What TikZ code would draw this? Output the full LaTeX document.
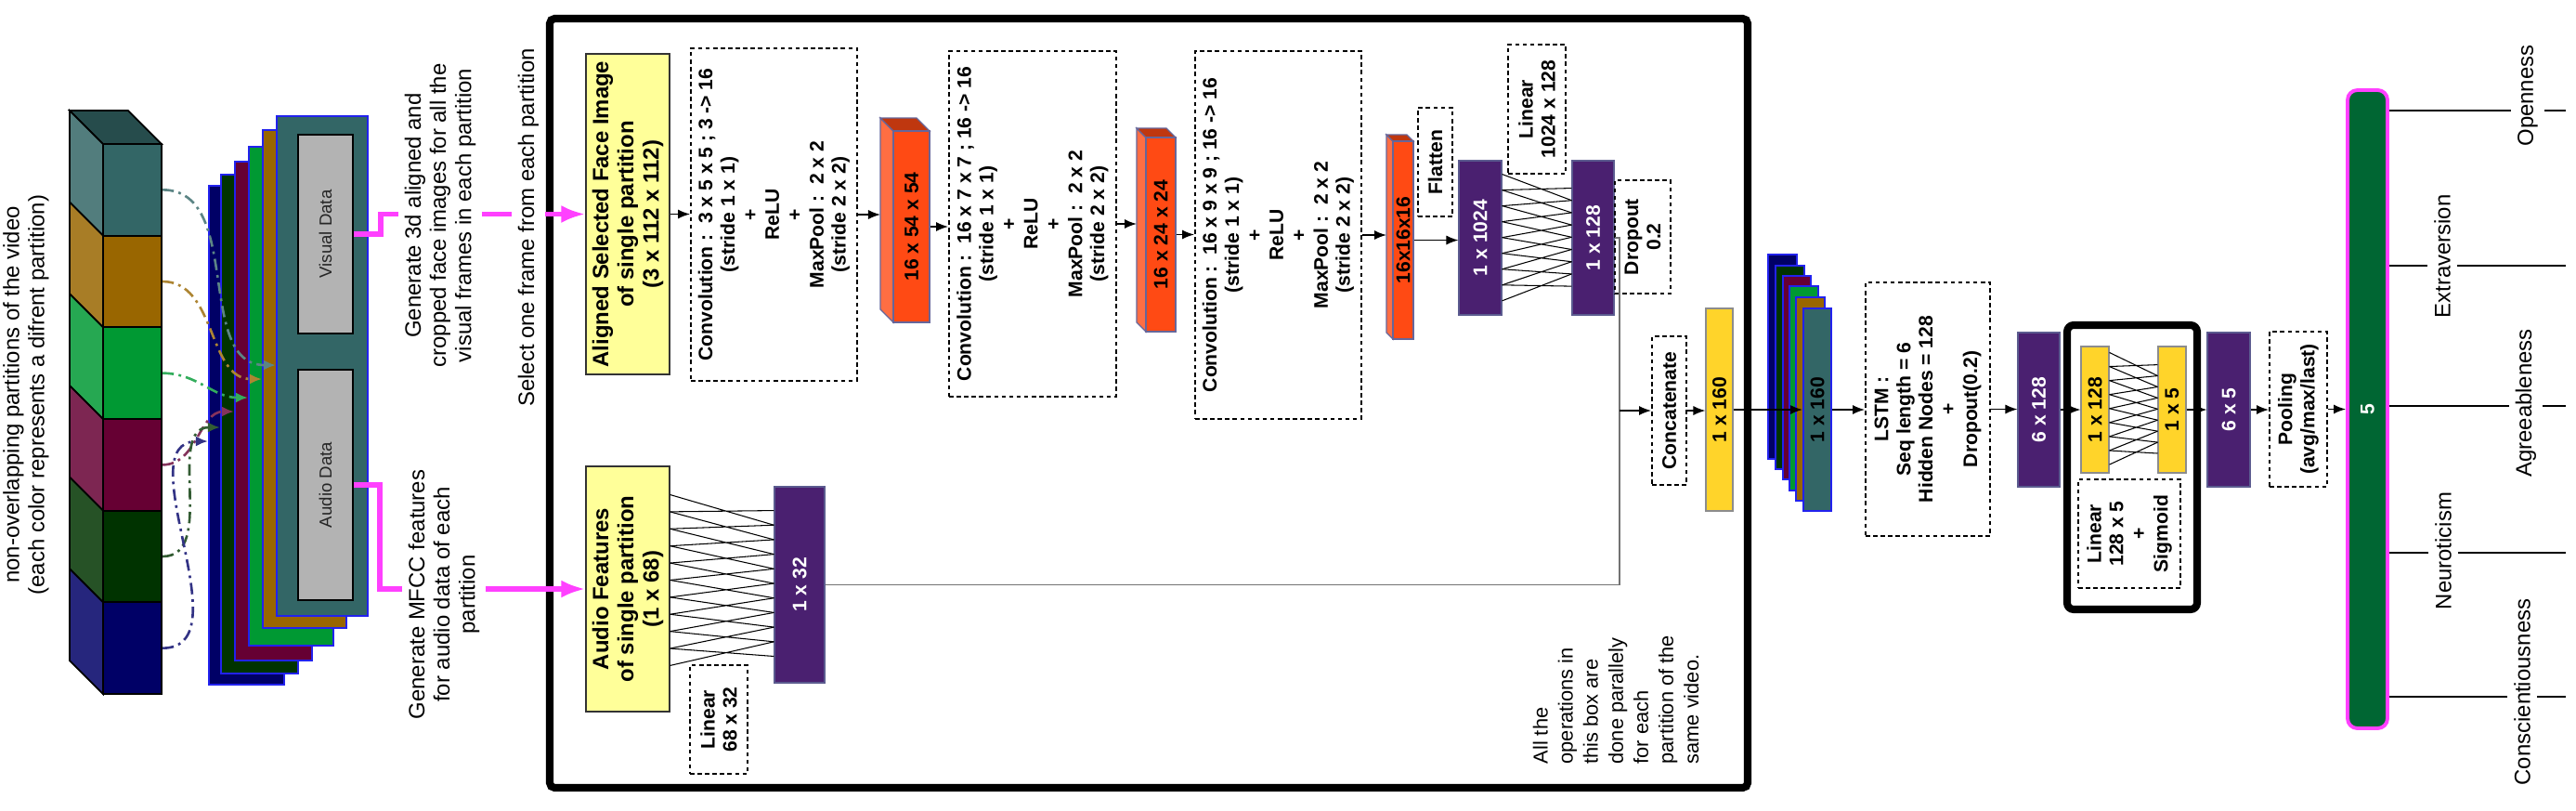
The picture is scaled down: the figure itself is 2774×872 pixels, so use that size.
\documentclass[tikz,border=0pt]{standalone}
\usepackage{fontspec}
\setmainfont{Liberation Sans}
\usepackage{tikz}
\usetikzlibrary{arrows.meta,positioning,fit,calc}
\usepackage{xcolor}
\definecolor{PTeal}{HTML}{336666}
\definecolor{PBrown}{HTML}{996600}
\definecolor{PGreen}{HTML}{009933}
\definecolor{PMaroon}{HTML}{660033}
\definecolor{PDkGreen}{HTML}{003300}
\definecolor{PNavy}{HTML}{000066}
\definecolor{FrameBlue}{HTML}{2222EE}
\definecolor{NetPurple}{HTML}{4A2070}
\definecolor{PBord}{HTML}{5B5B8F}
\definecolor{NetGold}{HTML}{FFD42A}
\definecolor{NetYellow}{HTML}{FFFF99}
\definecolor{NetRed}{HTML}{FF4A14}
\definecolor{BlkBord}{HTML}{66669A}
\definecolor{BarGreen}{HTML}{006633}
\definecolor{Mag}{HTML}{FF40FF}
\definecolor{DataGray}{HTML}{B3B3B3}

\begin{document}
\begin{tikzpicture}[x=0.01cm,y=-0.01cm,
  bx/.style={inner sep=0pt,line width=0.3pt},
  fr/.style={bx,draw=FrameBlue,line width=0.6pt},
  db/.style={bx,draw,line width=0.55pt,dash pattern=on 1.3pt off 1pt},
  pb/.style={bx,draw=PBord,fill=NetPurple},
  gb/.style={bx,draw=black!45,fill=NetGold},
  yb/.style={bx,draw=black!80,fill=NetYellow},
  vt/.style={rotate=90,align=center,inner sep=0pt},
  lbl/.style={vt,font=\fontsize{6}{6.8}\selectfont\bfseries},
  wlbl/.style={lbl,text=white},
  big/.style={vt,font=\fontsize{6.8}{7.7}\selectfont\bfseries},
  note/.style={vt,font=\fontsize{6.8}{7.7}\selectfont,fill=white,inner sep=2pt},
  trait/.style={note},
  a/.style={-{Latex[length=1.3mm,width=1mm]},line width=0.4pt},
  m/.style={-{Latex[length=2.6mm,width=1.9mm]},line width=1.7pt,draw=Mag},
  dd/.style={-{Latex[length=1.3mm,width=1.1mm]},line width=0.75pt,dash pattern=on 3.5pt off 1.5pt on 0.8pt off 1.5pt},
  fcl/.style={line width=0.3pt},
  gl/.style={line width=0.45pt,draw=black!55}]
\useasboundingbox (0,0) rectangle (2774,872);

% partitions of the video
\filldraw[fill=PTeal!75!black,line width=0.5pt] (75,119) -- (138,119) -- (174,155) -- (111,155) -- cycle;
\foreach \c [count=\i from 0] in {PTeal,PBrown,PGreen,PMaroon,PDkGreen,PNavy}{
  \pgfmathsetmacro\ya{155+98.67*\i}
  \pgfmathsetmacro\yb{\ya+98.67}
  \filldraw[fill=\c!85!white,line width=0.5pt] (75,\ya-36) -- (111,\ya) -- (111,\yb) -- (75,\yb-36) -- cycle;
  \node[bx,draw,line width=0.5pt,fill=\c,fit={(111,\ya)(174,\yb)}] (part\i) {};
}
\node[note,fill=none] (vidt) at (28,425) {non-overlapping partitions of the video\\(each color represents a difrent partition)};

% frames of each partition
\foreach \n/\c/\xa/\ya/\xb/\yb in {fr1/PNavy/225/200/306/737, fr2/PDkGreen/238/188/321/725, fr3/PMaroon/253/174/336/711, fr4/PGreen/268/158/359/695, fr5/PBrown/283/140/373/676, fr6/PTeal/298/125/396/663}
  \node[fr,fill=\c,fit={(\xa,\ya)(\xb,\yb)}] (\n) {};
\node[bx,draw,line width=0.5pt,fill=DataGray,fit={(321,145)(380,359)}] (vis) {};
\node[vt,font=\fontsize{5.3}{6}\selectfont,text=black!85] (vist) at (vis) {Visual Data};
\node[bx,draw,line width=0.5pt,fill=DataGray,fit={(321,398)(380,646)}] (aud) {};
\node[vt,font=\fontsize{5.3}{6}\selectfont,text=black!85] (audt) at (aud) {Audio Data};
\foreach \i/\f/\y/\c in {0/fr6/393/PTeal, 1/fr5/408/PBrown, 2/fr4/428/PGreen, 3/fr3/443/PMaroon, 4/fr2/460/PDkGreen, 5/fr1/475/PNavy}
  \draw[dd,draw=\c!80!white] (part\i.east) to[out=0,in=180] (\f.west |- 0,\y);

% one partition
\node[bx,draw,line width=2.3pt,rounded corners=1.5pt,fit={(592,20)(1882,848)}] (onepart) {};
\node[yb,fit={(631,58)(721,403)}] (face) {};
\node[big] (facet) at (face) {Aligned Selected Face Image\\of single partition\\(3 x 112 x 112)};
\node[yb,fit={(631,502)(721,766)}] (afeat) {};
\node[big] (afeatt) at (afeat) {Audio Features\\of single partition\\(1 x 68)};

\draw[m] (vis.east) -- ++(29,0) |- (face.west);
\draw[m] (aud.east) -- ++(28,0) |- (afeat.west);
\node[note] (gen3d) at (474,232) {Generate 3d aligned and\\cropped face images for all the\\visual frames in each partition};
\node[note] (mfcc) at (478,640) {Generate MFCC features\\for audio data of each\\partition};
\node[note] (sel) at (569,245) {Select one frame from each partition};

\node[pb,fit={(834,524)(888,735)}] (fc32) {};
\node[wlbl] (fc32t) at (fc32) {1 x 32};
\node[db,fit={(743,716)(805,833)}] (lin32) {};
\node[lbl] (lin32t) at (lin32) {Linear\\68 x 32};

\foreach \n/\xa/\ya/\xb/\yb/\tx in {conv1/744/52/923/410/3 x 5 x 5 ; 3 -> 16, conv2/1022/55/1202/427/16 x 7 x 7 ; 16 -> 16, conv3/1287/55/1466/451/16 x 9 x 9 ; 16 -> 16}{
  \node[db,fit={(\xa,\ya)(\xb,\yb)}] (\n) {};
  \node[lbl] (\n t) at (\n) {Convolution :\ \ \tx\\(stride 1 x 1)\\+\\ReLU\\+\\MaxPool :\ \ 2 x 2\\(stride 2 x 2)};
}
\foreach \n/\xa/\ya/\xb/\yb/\d/\tx in {blk1/962/141/1001/347/14/16 x 54 x 54, blk2/1234/148/1266/357/10/16 x 24 x 24, blk3/1500/152/1522/365/7/16x16x16}{
  \filldraw[fill=NetRed!80!white,draw=BlkBord,line width=0.4pt] (\xa,\ya) -- (\xa-\d,\ya-\d) -- (\xa-\d,\yb-\d) -- (\xa,\yb) -- cycle;
  \filldraw[fill=NetRed!75!black,draw=BlkBord,line width=0.4pt] (\xa,\ya) -- (\xa-\d,\ya-\d) -- (\xb-\d,\ya-\d) -- (\xb,\ya) -- cycle;
  \node[bx,fill=NetRed,draw=BlkBord,line width=0.4pt,fit={(\xa,\ya)(\xb,\yb)}] (\n) {};
  \node[lbl] (\n t) at (\n) {\tx};
  \coordinate (\n s) at (\xa-\d,{(\ya+\yb)/2});
}
\node[db,fit={(1527,116)(1564,233)}] (flat) {};
\node[lbl] (flatt) at (flat) {Flatten};
\node[pb,fit={(1571,173)(1617,339)}] (fc1024) {};
\node[wlbl] (fc1024t) at (fc1024) {1 x 1024};
\node[pb,fit={(1693,173)(1738,339)}] (fc128) {};
\node[wlbl] (fc128t) at (fc128) {1 x 128};
\node[db,fit={(1624,48)(1686,187)}] (lin128) {};
\node[lbl] (lin128t) at (lin128) {Linear\\1024 x 128};
\node[db,fit={(1739,194)(1799,316)}] (drop) {};
\node[lbl] (dropt) at (drop) {Dropout\\0.2};
\node[db,fit={(1779,362)(1816,522)}] (concat) {};
\node[lbl] (concatt) at (concat) {Concatenate};
\node[gb,fit={(1837,332)(1866,550)}] (gold160) {};
\node[lbl] (gold160t) at (gold160) {1 x 160};

\draw[a] (face.east) -- (face.east -| conv1.west);
\draw[a] (conv1.east) -- (conv1.east -| blk1s);
\draw[a] (blk1.east) -- (blk1.east -| conv2.west);
\draw[a] (conv2.east) -- (conv2.east -| blk2s);
\draw[a] (blk2.east) -- (blk2.east -| conv3.west);
\draw[a] (conv3.east) -- (conv3.east -| blk3s);
\draw[a] (blk3.east) -- (blk3.east -| fc1024.west);

% fully connected layers
\foreach \l/\r/\la/\ls/\ra/\rs/\k in {afeat/fc32/0.117/0.0694/0.123/0.074/9, fc1024/fc128/0.09/0.102/0.18/0.079/7}
  \foreach \i in {0,...,\k}{
    \pgfmathsetmacro\pa{\la+\ls*\i} \pgfmathsetmacro\pb{\pa+\ls}
    \pgfmathsetmacro\qa{\ra+\rs*\i} \pgfmathsetmacro\qb{\qa+\rs}
    \draw[fcl] ($(\l.north east)!\pa!(\l.south east)$) -- ($(\r.north west)!\qb!(\r.south west)$)
      ($(\l.north east)!\pb!(\l.south east)$) -- ($(\r.north west)!\qa!(\r.south west)$);
  }

\coordinate (jn) at (1744,442);
\draw[gl] (fc128.east) -| (jn) |- (fc32.east);
\draw[a] (jn) -- (jn -| concat.west);
\draw[a] (concat.east) -- (concat.east -| gold160.west);
\node[vt,anchor=west,font=\fontsize{6.2}{7.7}\selectfont,align=left] (allt) at (1740,823) {All the\\operations in\\this box are\\done parallely\\for each\\partition of the\\same video.};

% all partitions together
\foreach \n/\c/\xa/\ya/\xb/\yb in {st1/PNavy/1904/274/1935/494, st2/PDkGreen/1912/286/1943/505, st3/PMaroon/1920/297/1950/516, st4/PGreen/1927/308/1958/528, st5/PBrown/1934/320/1965/539, st6/PTeal/1942/332/1972/550}
  \node[fr,fill=\c,fit={(\xa,\ya)(\xb,\yb)}] (\n) {};
\node[lbl] (st6t) at (st6) {1 x 160};
\draw[a] (gold160.east) -- (gold160.east -| st6.west);

\node[db,fit={(2009,304)(2143,577)}] (lstm) {};
\node[lbl] (lstmt) at (lstm) {LSTM :\\Seq length = 6\\Hidden Nodes = 128\\+\\Dropout(0.2)};
\node[pb,fit={(2173,358)(2218,524)}] (p6a) {};
\node[wlbl] (p6at) at (p6a) {6 x 128};
\node[bx,draw,line width=2.3pt,rounded corners=2pt,fit={(2226,350)(2366,656)}] (head) {};
\node[gb,fit={(2241,373)(2271,509)}] (g128) {};
\node[lbl] (g128t) at (g128) {1 x 128};
\node[gb,fit={(2324,373)(2354,509)}] (g5) {};
\node[lbl] (g5t) at (g5) {1 x 5};
\node[db,fit={(2238,516)(2348,633)}] (lin5) {};
\node[lbl] (lin5t) at (lin5) {Linear\\128 x 5\\+\\Sigmoid};
\foreach \i in {0,...,7}{
  \pgfmathsetmacro\pa{0.051+0.110*\i} \pgfmathsetmacro\pb{\pa+0.110}
  \pgfmathsetmacro\qa{0.147+0.087*\i} \pgfmathsetmacro\qb{\qa+0.087}
  \draw[fcl] ($(g128.north east)!\pa!(g128.south east)$) -- ($(g5.north west)!\qb!(g5.south west)$)
    ($(g128.north east)!\pb!(g128.south east)$) -- ($(g5.north west)!\qa!(g5.south west)$);
}
\node[pb,fit={(2377,358)(2423,524)}] (p6b) {};
\node[wlbl] (p6bt) at (p6b) {6 x 5};
\node[db,fit={(2444,357)(2506,524)}] (pool) {};
\node[lbl] (poolt) at (pool) {Pooling\\(avg/max/last)};
\node[bx,fill=BarGreen,draw=Mag,line width=1.1pt,rounded corners=3pt,fit={(2528,97)(2571,784)}] (bar) {};
\node[wlbl] (bart) at (bar) {5};

\draw[a] (st6.east) -- (st6.east -| lstm.west);
\draw[a] (lstm.east) -- (lstm.east -| p6a.west);
\draw[a] (p6a.east) -- (p6a.east -| g128.west);
\draw[a] (g5.east) -- (g5.east -| p6b.west);
\draw[a] (p6b.east) -- (p6b.east -| pool.west);
\draw[a] (pool.east) -- (pool.east -| bar.west);

% traits
\foreach \y/\ty/\x/\tx [count=\k] in {119/103/2722/Openness, 286/276/2630/Extraversion, 437/434/2720/Agreeableness, 595/593/2631/Neuroticism, 750/745/2716/Conscientiousness}{
  \coordinate (end\k) at (2763,\y);
  \draw[line width=0.45pt] (bar.east |- end\k) -- (end\k);
  \node[trait] (trait\k) at (\x,\ty) {\tx};
}
\end{tikzpicture}
\end{document}
